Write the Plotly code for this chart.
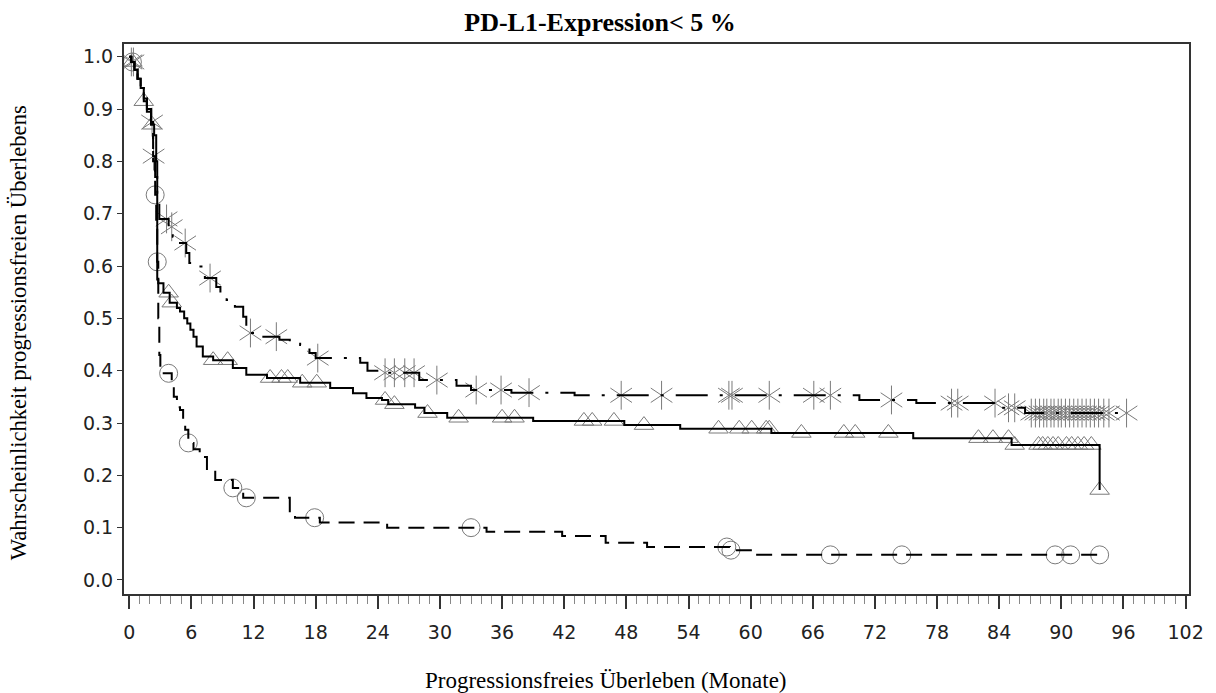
import bisect
import plotly.graph_objects as go

# ---- Data (months, survival probability) ----
# Solid curve with triangle censor marks
t_tri = [0, 0.2, 0.5, 0.8, 1.1, 1.4, 1.7, 2.1, 2.4, 2.6,
         2.7, 2.8, 3.3, 3.9, 4.6, 4.9, 5.3, 5.6, 5.9, 6.2,
         6.5, 7.1, 8.1, 10.0, 11.3, 13.3, 16.5, 19.4, 21.6, 22.9,
         24.4, 25.0, 27.6, 28.5, 30.7, 39.0, 47.8, 53.2, 62.0, 75.7,
         85.2, 93.7]
s_tri = [1.0, 0.99, 0.975, 0.958, 0.94, 0.915, 0.895, 0.87, 0.85, 0.80,
         0.574, 0.567, 0.549, 0.53, 0.52, 0.513, 0.50, 0.49, 0.478, 0.465,
         0.446, 0.427, 0.42, 0.405, 0.392, 0.386, 0.377, 0.367, 0.357, 0.348,
         0.344, 0.336, 0.329, 0.319, 0.31, 0.304, 0.296, 0.289, 0.281, 0.271,
         0.258, 0.172]
cens_tri = [0.3, 1.4, 2.2, 3.8, 4.1, 8.1, 9.5, 13.6, 14.7, 15.3, 16.7, 18.1,
            24.7, 25.6, 28.8, 31.8, 36.0, 37.2, 43.9, 44.7, 46.8, 49.7,
            56.9, 58.9, 60.1, 61.5, 61.8, 64.9, 69.0, 70.1, 73.3,
            82.0, 83.4, 84.9, 85.5, 87.8, 88.2, 88.7, 89.2, 89.7, 90.5,
            91.0, 91.6, 92.2, 92.9, 93.7]

# Dash-dot curve with star censor marks
t_star = [0, 0.2, 0.5, 0.8, 1.1, 1.4, 1.7, 2.1, 2.3, 2.5,
          2.7, 2.9, 3.8, 4.2, 4.8, 5.5, 5.8, 6.3, 7.3, 8.4,
          8.8, 9.4, 10.2, 11.0, 11.3, 11.6, 12.5, 14.5, 15.5, 16.5,
          17.4, 18.0, 22.3, 23.0, 24.2, 28.0, 31.6, 33.0, 36.9, 43.0,
          70.5, 76.0, 84.0, 86.5, 96.4]
s_star = [1.0, 0.99, 0.975, 0.958, 0.94, 0.92, 0.90, 0.875, 0.81, 0.77,
          0.72, 0.69, 0.675, 0.656, 0.644, 0.625, 0.606, 0.599, 0.577, 0.56,
          0.541, 0.535, 0.522, 0.503, 0.484, 0.472, 0.465, 0.459, 0.454, 0.449,
          0.434, 0.424, 0.415, 0.40, 0.396, 0.382, 0.371, 0.363, 0.358, 0.353,
          0.344, 0.338, 0.329, 0.319, 0.319]
cens_star = [0.2, 0.4, 2.2, 2.35, 3.6, 4.1, 5.4, 7.8, 11.7, 14.2, 18.2,
             24.7, 25.6, 26.6, 27.5, 29.7, 33.5, 35.9, 38.6, 47.5, 51.4,
             57.9, 58.2, 61.8, 66.1, 67.7, 73.6, 79.4, 80.0, 83.6, 84.9, 85.5,
             87.1, 87.5, 87.9, 88.3, 88.6, 89.0, 89.3, 89.7, 90.0, 90.4, 90.8,
             91.2, 91.6, 92.0, 92.4, 92.8, 93.2, 93.6, 94.1, 94.6, 96.3]

# Dashed curve with circle censor marks
t_circ = [0, 0.2, 0.5, 0.8, 1.1, 1.4, 1.7, 2.1, 2.3, 2.5,
          2.6, 2.7, 2.8, 2.9, 3.0, 4.1, 4.3, 4.6, 4.9, 5.2,
          5.4, 5.7, 6.2, 6.8, 7.5, 8.3, 10.0, 11.0, 15.5, 16.0,
          18.4, 24.9, 34.5, 41.8, 46.0, 50.0, 58.0, 60.3, 93.7]
s_circ = [1.0, 0.99, 0.975, 0.958, 0.94, 0.92, 0.90, 0.875, 0.80, 0.736,
          0.68, 0.608, 0.50, 0.43, 0.395, 0.377, 0.35, 0.33, 0.325, 0.30,
          0.287, 0.262, 0.25, 0.235, 0.21, 0.191, 0.176, 0.157, 0.128, 0.119,
          0.11, 0.10, 0.092, 0.084, 0.071, 0.063, 0.057, 0.048, 0.048]
cens_circ = [0.3, 2.5, 2.7, 3.8, 5.7, 10.0, 11.3, 17.9, 33.0, 57.7, 58.1,
             67.7, 74.6, 89.4, 90.9, 93.7]

x_ticks = list(range(0, 103, 6))
y_ticks = [i / 10 for i in range(11)]

title_text = "PD-L1-Expression< 5 %"
x_title = "Progressionsfreies Überleben (Monate)"
y_title = "Wahrscheinlichkeit progressionsfreien Überlebens"


def km_at(ts, ss, t):
    i = bisect.bisect_right(ts, t) - 1
    return ss[max(i, 0)]


MARK = "#7a7a7a"
fig = go.Figure()

# censor markers (drawn first, lines on top)
fig.add_trace(go.Scatter(
    x=cens_tri, y=[km_at(t_tri, s_tri, t) for t in cens_tri], mode="markers",
    marker=dict(symbol="triangle-up-open", size=17, color=MARK,
                line=dict(color=MARK, width=1)),
    showlegend=False, hoverinfo="skip"))
fig.add_trace(go.Scatter(
    x=cens_circ, y=[km_at(t_circ, s_circ, t) for t in cens_circ], mode="markers",
    marker=dict(symbol="circle-open", size=18, color=MARK,
                line=dict(color=MARK, width=1)),
    showlegend=False, hoverinfo="skip"))
for sym in ["y-up-open", "y-down-open"]:
    fig.add_trace(go.Scatter(
        x=cens_star, y=[km_at(t_star, s_star, t) for t in cens_star], mode="markers",
        marker=dict(symbol=sym, size=18, color=MARK,
                    line=dict(color=MARK, width=1)),
        showlegend=False, hoverinfo="skip"))

# survival step curves
fig.add_trace(go.Scatter(x=t_tri, y=s_tri, mode="lines",
                         line=dict(shape="hv", color="black", width=2),
                         showlegend=False, hoverinfo="skip"))
fig.add_trace(go.Scatter(x=t_star, y=s_star, mode="lines",
                         line=dict(shape="hv", color="black", width=2,
                                   dash="32px,12px,3px,12px"),
                         showlegend=False, hoverinfo="skip"))
fig.add_trace(go.Scatter(x=t_circ, y=s_circ, mode="lines",
                         line=dict(shape="hv", color="black", width=2,
                                   dash="16px,9px"),
                         showlegend=False, hoverinfo="skip"))

tick_font = dict(family="DejaVu Sans", size=19, color="#222")
fig.update_layout(
    width=1216, height=693,
    margin=dict(l=124, r=25, t=44, b=99),
    paper_bgcolor="white", plot_bgcolor="white",
    title=dict(text="<b>" + title_text + "</b>", x=600 / 1216,
               xref="container", xanchor="center",
               y=1 - 22 / 693, yref="container", yanchor="middle",
               font=dict(family="Liberation Serif", size=26, color="black")),
    xaxis=dict(range=[-0.51, 102.33], tickvals=x_ticks, ticks="outside",
               ticklen=13, tickwidth=2, tickcolor="#333",
               showline=True, linecolor="#333", linewidth=2, mirror=True,
               showgrid=False, zeroline=False, tickfont=tick_font,
               ticklabelstandoff=7,
               minor=dict(dtick=1, tick0=0, ticks="outside", ticklen=8,
                          tickwidth=1, tickcolor="#888", showgrid=False)),
    yaxis=dict(range=[-0.0268, 1.0243], tickvals=y_ticks, tickformat=".1f",
               ticks="outside", ticklen=5, tickwidth=1, tickcolor="#333",
               showline=True, linecolor="#333", linewidth=2, mirror=True,
               showgrid=False, zeroline=False, tickfont=tick_font),
    annotations=[
        dict(text=x_title, xref="paper", yref="paper",
             x=(607 - 124) / 1067, y=-(680 - 594) / 550,
             xanchor="center", yanchor="middle", showarrow=False,
             font=dict(family="Liberation Serif", size=23, color="black")),
        dict(text=y_title, xref="paper", yref="paper", textangle=-90,
             x=-(124 - 18) / 1067, y=1 - (333 - 44) / 550,
             xanchor="center", yanchor="middle", showarrow=False,
             font=dict(family="Liberation Serif", size=22.6, color="black")),
    ],
)

# remove the page's default body margin so the figure sits at the window origin
fig.write_html(
    "out.html",
    config={"displayModeBar": False},
    post_script="document.body.style.margin='0';document.body.style.overflow='hidden';",
)
